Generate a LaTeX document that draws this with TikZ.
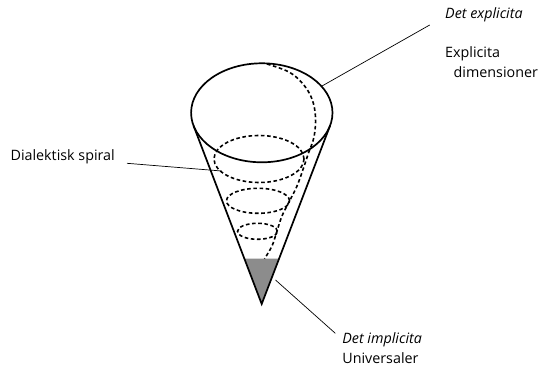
\documentclass[tikz,border=0pt]{standalone}
\usepackage{fontspec}
\setmainfont{Open Sans}
\begin{document}
\begin{tikzpicture}[x=1pt,y=-1pt,
  rim/.style={line width=1.7pt},
  spiralline/.style={line width=1.6pt, dash pattern=on 3.6pt off 2.6pt},
  leader/.style={line width=0.7pt},
  lbl/.style={anchor=west, inner sep=0pt, font=\fontsize{14.3}{16}\selectfont}]
\useasboundingbox (0,0) rectangle (542,366);
% key points
\coordinate (c) at (261.8,112.8);
\coordinate (apex) at (261.7,304);
\coordinate (tl) at (193.5,125.6);
\coordinate (tr) at (330.1,125.6);
\coordinate (gl) at (244.4,258.7);
\coordinate (gr) at (279,258.7);
% gray bottom
\fill[black!45] (gl) -- (gr) -- (apex) -- cycle;
% spiral
\draw[spiralline] plot[smooth, tension=0.6] coordinates {(267,64) (289,72) (303,84) (312,99) (315.5,117) (314,137) (308.5,153) (303.5,168) (297,186) (289,202) (282,216) (277,231) (272,246) (264.5,258.7)};
\draw[spiralline] (259,159) ellipse [x radius=45pt, y radius=23.5pt];
\draw[spiralline] (258,200.8) ellipse [x radius=31.5pt, y radius=12.5pt];
\draw[spiralline] (257.5,231.3) ellipse [x radius=20pt, y radius=8pt];
% cone
\draw[rim] (c) ellipse [x radius=70.7pt, y radius=49.5pt];
\draw[rim, line join=miter] (tl) -- (apex) -- (tr);
% labels
\node[lbl, font=\fontsize{14.3}{16}\selectfont\itshape] (dex) at (445,15) {Det explicita};
\node[lbl] (ex1) at (445,53.3) {Explicita};
\node[lbl] (ex2) at (453.5,71.7) {dimensioner};
\node[lbl] (dia) at (10.4,156.7) {Dialektisk spiral};
\node[lbl, font=\fontsize{14.3}{16}\selectfont\itshape] (dim) at (342.2,339.3) {Det implicita};
\node[lbl] (uni) at (342.2,358.3) {Universaler};
% leaders
\coordinate (le1) at (429.7,25);
\coordinate (le2) at (321.5,86.3);
\coordinate (ld1) at (127,163.3);
\coordinate (ld2) at (221.5,171);
\coordinate (li1) at (335.3,333.3);
\coordinate (li2) at (275.5,280);
\draw[leader] (le1) -- (le2);
\draw[leader] (ld1) -- (ld2);
\draw[leader] (li1) -- (li2);
\end{tikzpicture}
\end{document}
